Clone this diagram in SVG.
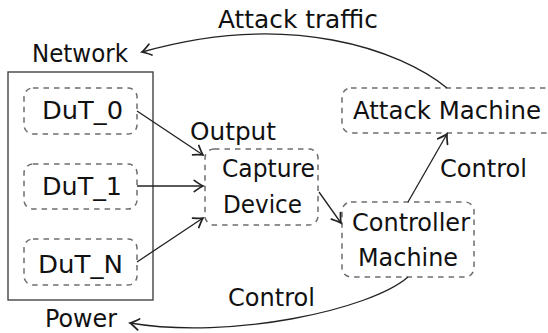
<svg xmlns="http://www.w3.org/2000/svg" width="548" height="333" viewBox="0 0 548 333">
<defs>
<style>
text{font-family:"DejaVu Sans","Liberation Sans",sans-serif;font-size:24px;fill:#111}
.node{fill:none;stroke:#6e6e6e;stroke-width:1.5;stroke-dasharray:5.5 5}
.frame{fill:none;stroke:#444;stroke-width:1.4}
.conn{fill:none;stroke:#222;stroke-width:1.3;marker-end:url(#tip)}
</style>
<marker id="tip" markerUnits="userSpaceOnUse" markerWidth="14" markerHeight="14" viewBox="-8 -6 10 12" refX="0" refY="0" orient="auto">
<path d="M-7.5,-4.8 Q-2.5,-1.2 0,0 Q-2.5,1.2 -7.5,4.8" fill="none" stroke="#222" stroke-width="1.5" stroke-linecap="round"/>
</marker>
</defs>
<g id="network">
<rect class="frame" x="8" y="72" width="145" height="228"/>
<text x="32" y="62" textLength="96" lengthAdjust="spacingAndGlyphs">Network</text>
<text x="45" y="327" textLength="72" lengthAdjust="spacingAndGlyphs">Power</text>
</g>
<g id="dut0">
<rect class="node" x="24" y="88" width="113" height="46" rx="9"/>
<text x="42" y="119" textLength="81" lengthAdjust="spacingAndGlyphs">DuT_0</text>
</g>
<g id="dut1">
<rect class="node" x="24" y="164" width="113" height="45" rx="9"/>
<text x="42" y="195" textLength="80" lengthAdjust="spacingAndGlyphs">DuT_1</text>
</g>
<g id="dutn">
<rect class="node" x="24" y="239" width="113" height="46" rx="9"/>
<text x="38" y="273" textLength="85" lengthAdjust="spacingAndGlyphs">DuT_N</text>
</g>
<g id="capture">
<rect class="node" x="205" y="149" width="113" height="76" rx="9"/>
<text x="190" y="140" textLength="86" lengthAdjust="spacingAndGlyphs">Output</text>
<text x="222" y="177" textLength="93" lengthAdjust="spacingAndGlyphs">Capture</text>
<text x="223" y="213" textLength="79" lengthAdjust="spacingAndGlyphs">Device</text>
</g>
<g id="attack">
<rect class="node" x="342" y="88" width="230" height="45" rx="9"/>
<text x="353" y="119" textLength="188" lengthAdjust="spacingAndGlyphs">Attack Machine</text>
</g>
<g id="controller">
<rect class="node" x="342" y="202" width="132" height="75" rx="9"/>
<text x="352" y="231" textLength="118" lengthAdjust="spacingAndGlyphs">Controller</text>
<text x="358" y="266" textLength="100" lengthAdjust="spacingAndGlyphs">Machine</text>
</g>
<g id="connectors">
<path class="conn" d="M447,88 C400,50 290,10 142,52"/>
<path class="conn" d="M137,111 L203,155"/>
<path class="conn" d="M137,186 L203,186"/>
<path class="conn" d="M137,262 L203,218"/>
<path class="conn" d="M319,192 L341,223"/>
<path class="conn" d="M408,202 L447,134"/>
<path class="conn" d="M408,277 C370,310 230,340 130,323"/>
<text x="218" y="28" textLength="160" lengthAdjust="spacingAndGlyphs">Attack traffic</text>
<text x="440" y="177" textLength="87" lengthAdjust="spacingAndGlyphs">Control</text>
<text x="228" y="306" textLength="87" lengthAdjust="spacingAndGlyphs">Control</text>
</g>
</svg>
